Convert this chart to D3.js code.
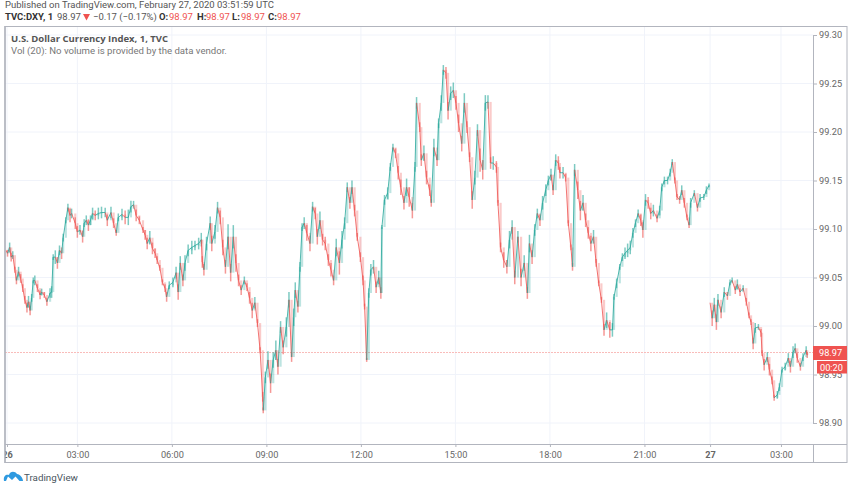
<!DOCTYPE html>
<html>
<head>
<meta charset="utf-8">
<script src="https://cdnjs.cloudflare.com/ajax/libs/d3/7.8.5/d3.min.js"></script>
<style>
html, body { margin: 0; padding: 0; background: #fff; }
svg { display: block; font-family: Roboto, sans-serif; }
</style>
</head>
<body>
<svg id="chart" width="852" height="485"></svg>
<script>
// one minute bars. bar number counts traded minutes, so the closed hours take no room
var barsDay26 = [-2,1,5,8,11,15,18,22,26,30,34,38,41,44,47,50,53,58,63,66,71,76,82,85,88,92,96,100,104,107,112,116,120,123,130,134,139,144,147,151,155,159,163,168,174,180,187,191,198,203,208,212,219,225,231,236,241,246,252,259,263,267,272,277,282,286,291,296,301,304,309,316,322,326,330,335,339,345,352,358,365,370,372,375,380,387,390,396,401,406,
    411,416,421,426,431,436,441,446,452,457,462,467,472,477,482,487,488,492,497,502,507,512,516,521,526,532,537,542,546,549,554,558,562,566,571,577,582,587,591,596,601,606,612,617,622,627,633,638,643,648,653,657,662,667,673,678,681,685,689,693,698,703,708,712,
    714,719,725,730,735,740,745,750,756,761,766,772,777,780,786,789,794,799,805,808,813,819,822,827,831,836,840,845,850,855,860,866,871,876,881,886,891,896,901,906,911,916,921,926,932,935,940,946,952,957,962,967,973,979,985,991,995,1000,1005,1010,1015,1020,1026,1031,1036,1040,1045,1050,1053,
    1059,1064,1069,1074,1077,1081,1087,1092,1097,1102,1107,1112,1117,1122,1127,1132,1137,1142,1148,1153,1156,1161,1167,1172,1177,1182,1187,1192,1197,1202,1207,1211,1216,1221,1226,1231,1238,1243,1247,1252,1258,1263,1267,1272,1276,1281,1285,1290,1295,1299,1302,1309,1315,1320,1327,1332,1337];
var closesDay26 = [99.078,99.075,99.081,99.071,99.073,99.058,99.047,99.056,99.049,99.039,99.027,99.019,99.025,99.016,99.029,99.047,99.047,99.039,99.032,99.035,99.032,99.025,99.034,99.035,99.071,99.071,99.065,99.078,99.075,99.091,99.109,99.122,99.114,99.116,99.106,99.097,99.099,99.092,99.106,99.109,99.104,99.109,99.116,99.114,99.116,99.117,99.117,99.109,99.117,99.106,99.096,99.112,99.115,99.112,99.112,99.123,99.125,99.114,99.109,99.099,99.094,99.085,99.091,99.080,99.075,99.068,99.060,99.045,99.039,99.030,99.042,99.045,99.055,99.035,99.065,99.047,99.065,99.078,99.081,99.083,99.085,99.089,99.066,99.058,99.085,99.106,99.085,99.097,99.122,99.112,
    99.081,99.061,99.092,99.055,99.092,99.065,99.047,99.037,99.047,99.040,99.029,99.016,99.024,99.003,98.975,98.927,98.913,98.947,98.965,98.941,98.965,98.975,98.958,98.999,98.978,98.999,99.027,98.968,99.009,99.037,99.020,99.061,99.102,99.106,99.096,99.085,99.123,99.116,99.092,99.109,99.089,99.085,99.068,99.058,99.047,99.081,99.065,99.089,99.106,99.143,99.127,99.143,99.119,99.092,99.071,99.047,99.020,98.965,99.034,99.058,99.061,99.040,99.050,99.034,
    99.102,99.130,99.137,99.164,99.184,99.178,99.158,99.143,99.127,99.143,99.133,99.119,99.164,99.230,99.205,99.171,99.178,99.153,99.140,99.127,99.184,99.171,99.209,99.230,99.264,99.261,99.222,99.240,99.243,99.230,99.209,99.188,99.230,99.205,99.174,99.130,99.153,99.202,99.171,99.161,99.230,99.231,99.168,99.168,99.164,99.127,99.081,99.068,99.061,99.089,99.102,99.050,99.092,99.050,99.065,99.034,99.085,99.071,99.099,99.116,99.109,99.127,99.140,99.150,99.156,99.140,99.171,99.168,99.158,
    99.158,99.153,99.106,99.081,99.061,99.161,99.140,99.119,99.127,99.109,99.096,99.085,99.092,99.065,99.044,99.027,98.996,99.006,98.996,98.996,99.030,99.044,99.061,99.071,99.075,99.078,99.081,99.096,99.106,99.116,99.109,99.099,99.130,99.127,99.116,99.119,99.111,99.119,99.143,99.150,99.150,99.158,99.169,99.150,99.133,99.130,99.140,99.127,99.112,99.104,99.127,99.137,99.122,99.132,99.133,99.140,99.145];
// high to low of the bars around each reading, estimated from how thick the trace looks
var spreadsDay26 = [.008,.007,.010,.009,.008,.006,.008,.010,.009,.008,
    .008,.010,.012,.010,.008,.006,.010,.008,.009,.007,
    .006,.008,.010,.012,.006,.014,.012,.010,.012,.008,
    .006,.008,.014,.010,.012,.012,.010,.012,.008,.010,
    .012,.010,.012,.010,.012,.012,.010,.012,.012,.010,
    .006,.008,.012,.014,.016,.012,.008,.012,.008,.006,
    .010,.012,.014,.012,.010,.008,.006,.006,.008,.010,
    .008,.010,.012,.016,.014,.012,.016,.012,.014,.010,
    .012,.014,.012,.012,.014,.014,.016,.014,.012,.014,
    .016,.014,.026,.018,.024,.018,.012,.010,.008,.008,
    .012,.016,.012,.008,.006,.010,.006,.012,.018,.020,
    .016,.020,.016,.012,.014,.020,.016,.010,.018,.016,
    .012,.010,.008,.012,.016,.016,.010,.012,.016,.018,
    .012,.014,.012,.014,.010,.018,.024,.018,.012,.010,
    .012,.014,.012,.008,.010,.010,.006,.004,.010,.012,
    .014,.012,.014,.012,
    .004,.010,.012,.008,.008,.010,.014,.016,.014,.018,
    .020,.016,.010,.012,.010,.012,.016,.014,.012,.008,
    .018,.012,.010,.016,.010,.012,.018,.014,.016,.014,
    .018,.016,.020,.012,.010,.018,.014,.012,.024,.020,
    .016,.014,.012,.014,.012,.006,.010,.016,.014,.018,
    .014,.014,.012,.018,.016,.012,.018,.014,.012,.010,
    .012,.014,.012,.010,.012,.010,.012,.014,.012,
    .012,.008,.006,.006,.008,.012,.018,.020,.016,.014,
    .012,.016,.014,.008,.006,.006,.012,.016,.016,.014,
    .006,.010,.006,.008,.012,.014,.014,.010,.008,.008,
    .012,.016,.012,.012,.012,.012,.008,.010,.008,.008,
    .008,.008,.006,.006,.006,.008,.010,.010,.006,.006,
    .010,.006,.008,.008,.006,.008,.004];
var barsDay27 = [1339,1343,1347,1351,1354,1360,1366,1372,1377,1381,1387,1391,1396,1402,1408,1413,1417,1421,1425,1431,1436,1438,1442,1448,1452,1457,1461,1467,1471,1476,1482,1488,1492,1497,1501,1505,1511,1516,1522,1524];
var closesDay27 = [99.024,99.008,99.022,99.004,99.027,99.014,99.035,99.031,99.045,99.047,99.037,99.043,99.035,99.039,99.025,99.011,99.004,98.982,98.998,98.999,98.993,98.972,98.960,98.968,98.955,98.944,98.926,98.929,98.937,98.955,98.958,98.967,98.958,98.973,98.977,98.967,98.958,98.968,98.975,98.970];
var spreadsDay27 = [.012,.016,.014,.016,.012,.012,.010,.008,.006,.006,
    .008,.010,.008,.006,.008,.006,.006,.012,.010,.006,
    .008,.006,.012,.010,.012,.008,.006,.008,.008,.006,
    .008,.010,.012,.012,.010,.010,.008,.008,.008,.006];

var priceTicks = [98.90, 98.95, 99.00, 99.05, 99.10, 99.15, 99.20, 99.25, 99.30];
var timeTickBars = [0, 134, 314, 494, 674, 854, 1034, 1214, 1339, 1474];
var timeTickLabels = ["26", "03:00", "06:00", "09:00", "12:00", "15:00", "18:00", "21:00", "27", "03:00"];
var lastPrice = 98.973;

var upColor = "#26a69a", downColor = "#ef5350", gridColor = "#f0f3fa", frameColor = "#b2b5be", textColor = "#666";

var svg = d3.select("#chart");

var x = d3.scaleLinear().domain([0, 1535]).range([7, 813]);
var y = d3.scaleLinear().domain([98.90, 99.30]).range([423, 35]);

svg.append("clipPath").attr("id", "plotClip")
    .append("rect").attr("x", 5).attr("y", 27).attr("width", 808).attr("height", 417);
svg.append("clipPath").attr("id", "timeClip")
    .append("rect").attr("x", 5.5).attr("y", 0).attr("width", 807).attr("height", 19);

// grid
svg.append("g").selectAll("line").data(priceTicks).enter().append("line")
    .attr("x1", 5).attr("x2", 813)
    .attr("y1", function(d) {return y(d); }).attr("y2", function(d) {return y(d); })
    .attr("stroke", gridColor);
svg.append("g").selectAll("line").data(timeTickBars).enter().append("line")
    .attr("x1", function(d) {return x(d); }).attr("x2", function(d) {return x(d); })
    .attr("y1", 27).attr("y2", 444)
    .attr("stroke", gridColor);

// last price line goes under the bars
svg.append("line")
    .attr("x1", 5).attr("x2", 813)
    .attr("y1", Math.round(y(lastPrice)) + 0.5).attr("y2", Math.round(y(lastPrice)) + 0.5)
    .attr("stroke", "#f9bcba").attr("stroke-dasharray", "2 1");

var plot = svg.append("g").attr("clip-path", "url(#plotClip)").style("filter", "blur(0.3px)");

function drawSession(bars, closes, spreads) {
    var rows = [];
    var i;
    for (i = 1; i < bars.length; i += 1) {
        rows.push({prevBar: bars[i - 1], bar: bars[i], open: closes[i - 1], close: closes[i], spread: spreads[i]});
    }
    function color(d) {return d.close >= d.open ? upColor : downColor; }

    // wicks, thin and see-through so teal and red mix to grey where they cross
    plot.append("g").selectAll("line").data(rows).enter().append("line")
        .attr("x1", function(d) {return x(d.bar); }).attr("x2", function(d) {return x(d.bar); })
        .attr("y1", function(d) {return y(d.close + d.spread / 2); }).attr("y2", function(d) {return y(d.close - d.spread / 2); })
        .attr("stroke", color).attr("stroke-width", 1.5).attr("stroke-opacity", 0.6);

    plot.append("g").selectAll("line").data(rows).enter().append("line")
        .attr("x1", function(d) {return x(d.bar); }).attr("x2", function(d) {return x(d.bar); })
        .attr("y1", function(d) {return y(d.open); }).attr("y2", function(d) {return y(d.close); })
        .attr("stroke", color).attr("stroke-width", 2.2).attr("stroke-opacity", 0.3);

    plot.append("g").selectAll("line").data(rows).enter().append("line")
        .attr("x1", function(d) {return x(d.prevBar); }).attr("x2", function(d) {return x(d.bar); })
        .attr("y1", function(d) {return y(d.open); }).attr("y2", function(d) {return y(d.close); })
        .attr("stroke", color).attr("stroke-width", 1).attr("stroke-opacity", 0.8);
}
drawSession(barsDay26, closesDay26, spreadsDay26);
drawSession(barsDay27, closesDay27, spreadsDay27);

// frame
svg.append("rect").attr("x", 5).attr("y", 26.5).attr("width", 842).attr("height", 436)
    .attr("fill", "none").attr("stroke", frameColor);
svg.append("line").attr("x1", 5).attr("x2", 5).attr("y1", 26).attr("y2", 463).attr("stroke", frameColor).attr("stroke-width", 1.5);

// axes
var priceAxis = d3.axisRight(y).tickValues(priceTicks).tickSize(4).tickPadding(2)
    .tickFormat(d3.format(".2f"));
var gPrice = svg.append("g").attr("transform", "translate(813,0)").call(priceAxis);
gPrice.select(".domain").attr("stroke", frameColor).attr("stroke-width", 1);
gPrice.selectAll(".tick line").attr("stroke", frameColor);
gPrice.selectAll("text").attr("fill", textColor).style("font-size", "9.2px").style("font-family", "Roboto");

var timeAxis = d3.axisBottom(x).tickValues(timeTickBars).tickSize(3).tickPadding(4)
    .tickFormat(function(d, i) {return timeTickLabels[i]; });
var gTime = svg.append("g").attr("transform", "translate(0,444)").call(timeAxis);
gTime.select(".domain").remove();
svg.append("line").attr("x1", 5).attr("x2", 847).attr("y1", 444.5).attr("y2", 444.5).attr("stroke", frameColor);
svg.append("line").attr("x1", 813.5).attr("x2", 813.5).attr("y1", 444).attr("y2", 463).attr("stroke", frameColor);
gTime.selectAll(".tick line").attr("stroke", frameColor);
gTime.attr("clip-path", "url(#timeClip)");
gTime.selectAll("text").attr("fill", textColor).style("font-size", "9.2px").style("font-family", "Roboto");
gTime.selectAll(".tick").filter(function(d) {return d === 0 || d === 1339; }).select("text")
    .style("font-weight", "700");

// price labels
svg.append("rect").attr("x", 813).attr("y", 346).attr("width", 34).attr("height", 14).attr("fill", downColor);
svg.append("text").attr("x", 819).attr("y", 356.3).attr("fill", "#fff").style("font-size", "9.2px").text(lastPrice.toFixed(2));
svg.append("rect").attr("x", 817).attr("y", 361).attr("width", 30).attr("height", 12.5).attr("fill", downColor);
svg.append("text").attr("x", 820).attr("y", 370.5).attr("fill", "#fff").style("font-size", "9.2px").text("00:20");

// header
svg.append("text").attr("x", 5).attr("y", 8).attr("fill", "#555").style("font-size", "9.5px")
    .text("Published on TradingView.com, February 27, 2020 03:51:59 UTC");

var headerParts = [
    {x: 5, t: "TVC:DXY, 1", bold: true, c: "#333"},
    {x: 57, t: "98.97", c: "#555"},
    {x: 93, t: "\u22120.17 (\u22120.17%)", c: "#555"},
    {x: 159, t: "O:", bold: true, c: "#333"},
    {x: 169, t: "98.97", c: downColor},
    {x: 197, t: "H:", bold: true, c: "#333"},
    {x: 206, t: "98.97", c: downColor},
    {x: 232, t: "L:", bold: true, c: "#333"},
    {x: 241, t: "98.97", c: downColor},
    {x: 268, t: "C:", bold: true, c: "#333"},
    {x: 277, t: "98.97", c: downColor}
];
svg.append("g").selectAll("text").data(headerParts).enter().append("text")
    .attr("x", function(d) {return d.x; }).attr("y", 20)
    .attr("fill", function(d) {return d.c; })
    .style("font-size", "9.5px")
    .style("font-weight", function(d) {return d.bold ? 700 : 400; })
    .text(function(d) {return d.t; });
svg.append("path").attr("d", "M83,14L90,14L86.5,20.5Z").attr("fill", downColor);

// legend
svg.append("text").attr("x", 11).attr("y", 42).attr("fill", "#555").style("font-size", "9.5px").style("font-weight", 700)
    .style("font-family", "Open Sans")
    .text("U.S. Dollar Currency Index, 1, TVC");
svg.append("text").attr("x", 11).attr("y", 54).attr("fill", "#777").style("font-size", "9.6px")
    .text("Vol (20): No volume is provided by the data vendor.");

// logo
svg.append("path")
    .attr("d", "M4,481C3,475 7,474 9,475C10,471 15,471 17,474C20,474 23,478 23,481L19.5,481L15.5,476.5L12,480L8,476.5L6,481Z")
    .attr("fill", "#2f9ae0");
svg.append("text").attr("x", 24).attr("y", 481).attr("fill", "#4a5560").style("font-size", "9.8px")
    .text("TradingView");
</script>
</body>
</html>
